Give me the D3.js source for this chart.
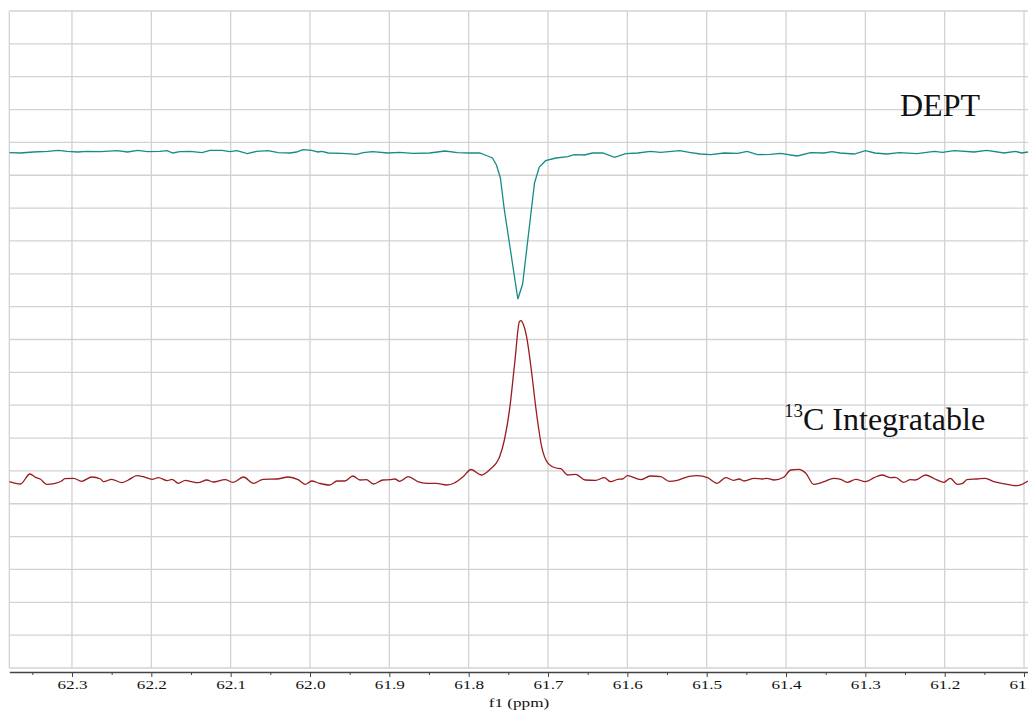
<!DOCTYPE html>
<html>
<head>
<meta charset="utf-8">
<script src="https://cdn.jsdelivr.net/npm/d3@7"></script>
<style>
body { margin: 0; background: #fff; }
svg { display: block; }
.grid line { stroke: #d2d2d2; stroke-width: 1.3; }
.axis path, .axis line { stroke: #444; }
.label { fill: #111; }
</style>
</head>
<body>
<div id="chart"></div>
<script>
//tick labels of the f1 axis
const majorTicks = [62.3, 62.2, 62.1, 62.0, 61.9, 61.8, 61.7, 61.6, 61.5, 61.4, 61.3, 61.2, 61.1];
const minorTicks = [62.35, 62.25, 62.15, 62.05, 61.95, 61.85, 61.75, 61.65, 61.55, 61.45, 61.35, 61.25, 61.15];

//DEPT trace (ppm, intensity relative to its baseline)
const deptPpm = [62.379, 62.365, 62.349, 62.331, 62.317, 62.306, 62.293, 62.281, 62.264, 62.243, 62.230, 62.217, 62.205, 62.189, 62.180, 62.173, 62.164, 62.151, 62.136, 62.126, 62.111, 62.101, 62.092, 62.079, 62.067, 62.053, 62.040, 62.025, 62.017, 62.009, 61.998, 61.990, 61.985, 61.977, 61.959, 61.941, 61.933, 61.921, 61.902, 61.887, 61.870, 61.849, 61.830, 61.814, 61.799, 61.786, 61.776, 61.770, 61.765, 61.760, 61.755, 61.738, 61.732, 61.717, 61.711, 61.703, 61.690, 61.675, 61.667, 61.654, 61.644, 61.631, 61.616, 61.602, 61.587, 61.571, 61.558, 61.534, 61.522, 61.508, 61.495, 61.478, 61.461, 61.449, 61.436, 61.420, 61.407, 61.386, 61.369, 61.352, 61.342, 61.332, 61.314, 61.300, 61.288, 61.273, 61.257, 61.235, 61.213, 61.203, 61.188, 61.163, 61.147, 61.125, 61.111, 61.103, 61.095];
const deptInt = [-0.7, -1.0, 0, 0.7, 1.7, 0.7, 0, 0.7, 0.3, 1.3, 0, 1.7, 0.3, 0.7, 1.3, -1.0, 0.3, 0.7, -0.7, 1.7, 1.7, 0.3, 1.3, -1.7, 0.7, 1.3, -0.7, -1.0, 0, 2.3, 1.7, 0, 0.7, -1.0, -1.3, -2.3, -0.7, 0.3, -1.0, -0.3, -1.3, -1.0, 1.0, -0.7, -1.0, -1.0, -4, -6, -13, -26, -58, -147, -132, -31, -15, -8.7, -6, -4.7, -2.7, -3, -1, -1, -5.3, -1.7, -1, 0.7, -0.3, 1.3, -0.3, -2, -2.7, -1, -1.3, 0.7, -2.7, -2.3, -1.3, -4, -0.7, -1, 0.3, -1, -2, 1.3, -1, -2, -0.7, -1.7, 0.7, -0.3, 1.3, 0, 1.7, -1, 0.7, -1, 0];

//13C integratable trace
const c13Ppm = [62.379, 62.365, 62.353, 62.346, 62.340, 62.332, 62.321, 62.313, 62.309, 62.298, 62.288, 62.275, 62.264, 62.260, 62.250, 62.237, 62.229, 62.218, 62.210, 62.199, 62.191, 62.180, 62.174, 62.166, 62.157, 62.149, 62.141, 62.130, 62.122, 62.107, 62.097, 62.084, 62.071, 62.059, 62.042, 62.027, 62.015, 62.006, 61.998, 61.988, 61.975, 61.966, 61.956, 61.946, 61.937, 61.929, 61.920, 61.908, 61.899, 61.893, 61.887, 61.876, 61.864, 61.853, 61.841, 61.828, 61.818, 61.807, 61.797, 61.784, 61.774, 61.761, 61.755, 61.748, 61.742, 61.736, 61.734, 61.732, 61.727, 61.721, 61.715, 61.708, 61.700, 61.690, 61.684, 61.675, 61.665, 61.653, 61.640, 61.629, 61.621, 61.612, 61.606, 61.600, 61.583, 61.571, 61.558, 61.547, 61.537, 61.522, 61.512, 61.499, 61.487, 61.476, 61.466, 61.459, 61.453, 61.440, 61.430, 61.424, 61.415, 61.403, 61.394, 61.384, 61.375, 61.365, 61.352, 61.340, 61.331, 61.323, 61.312, 61.300, 61.289, 61.279, 61.268, 61.262, 61.252, 61.243, 61.237, 61.224, 61.214, 61.201, 61.193, 61.184, 61.178, 61.172, 61.159, 61.149, 61.138, 61.121, 61.109, 61.095];
const c13Int = [-0.7, -3, 7, 3.7, 2, -3.3, -2.3, 0, 2.3, 2.7, -0.3, 4, 2, -0.7, 1.7, -1.7, 1, 5.3, 4.3, 1.7, 3.3, 0.3, 1.7, -2.3, 0.7, -0.7, -1.7, 1, -1, 1.3, -1.3, 4, -2.3, 1.7, 2, 4, 1.3, -3.3, 0, -2.3, -4, 0, 0, 5, 1, 1.3, -3, 1, 1.3, 2, -0.3, 4.3, -0.7, -2.3, -2.3, -4, -2, 4.3, 11.5, 6, 11, 24.3, 41, 74.3, 117.7, 159.3, 160.3, 158.3, 144.3, 111, 71, 34.3, 17.7, 13, 12.3, 6, 6.7, 1, 0.7, 3.3, -0.7, 1.7, 2, 5.3, 1.3, 5, 4.3, -0.3, 0.7, 4.7, 5.3, 3.3, -2.3, 3.3, 0.7, 2, 0, 2.7, 2, 2.7, 1, 3.7, 11, 11.7, 7.7, -3.3, -0.7, 2.7, 1.7, -1.3, 1.7, -0.7, 3.3, 6, 3.3, 3.7, -1.3, 1.3, 1, 6, 2.7, -1.3, 2.7, -3.3, -2.7, 1.3, 2, 2.7, -0.7, -3.3, -4.7, 0];

//baseline offsets used to stack the two spectra
const deptOffset = 516;
const c13Offset = 187;

const width = 1028;
const height = 714;
const serif = "'Liberation Serif', 'Times New Roman', serif";

const svg = d3.select("#chart")
  .append("svg")
  .attr("width", width)
  .attr("height", height);

//ppm axis runs from high to low
const xScale = d3.scaleLinear()
  .domain([62.379, 61.095])
  .range([9.3, 1028]);
const yScale = d3.scaleLinear()
  .domain([0, 657])
  .range([668, 11]);
const gridScale = d3.scaleLinear()
  .domain([0, 20])
  .range([668, 11]);

//grid
const grid = svg.append("g").attr("class", "grid");
grid.selectAll(".h")
  .data(d3.range(21))
  .join("line")
    .attr("class", "h")
    .attr("x1", xScale.range()[0])
    .attr("x2", xScale.range()[1])
    .attr("y1", d => gridScale(d))
    .attr("y2", d => gridScale(d));
grid.selectAll(".v")
  .data([62.379].concat(majorTicks))
  .join("line")
    .attr("class", "v")
    .attr("x1", d => xScale(d))
    .attr("x2", d => xScale(d))
    .attr("y1", gridScale(20))
    .attr("y2", gridScale(0));

//clip the spectra to the plot area
svg.append("clipPath")
  .attr("id", "plot-clip")
  .append("rect")
    .attr("x", xScale.range()[0])
    .attr("y", 0)
    .attr("width", width)
    .attr("height", gridScale(0));

const line = (offset, curve) => d3.line()
  .x(d => xScale(d[0]))
  .y(d => yScale(offset + d[1]))
  .curve(curve);

svg.append("path")
  .datum(d3.zip(deptPpm, deptInt))
  .attr("clip-path", "url(#plot-clip)")
  .attr("fill", "none")
  .attr("stroke", "#178a8a")
  .attr("stroke-width", 1.3)
  .attr("d", line(deptOffset, d3.curveLinear));

svg.append("path")
  .datum(d3.zip(c13Ppm, c13Int))
  .attr("clip-path", "url(#plot-clip)")
  .attr("fill", "none")
  .attr("stroke", "#991b1e")
  .attr("stroke-width", 1.3)
  .attr("d", line(c13Offset, d3.curveMonotoneX));

//bottom axis with minor ticks
const axisY = 672;
const bottomAxis = d3.axisBottom(xScale)
  .tickValues(majorTicks)
  .tickFormat(d3.format(".1f"))
  .tickSize(5)
  .tickSizeOuter(0);
const axisG = svg.append("g")
  .attr("class", "axis")
  .attr("transform", `translate(0, ${axisY})`)
  .call(bottomAxis)
  .attr("font-family", serif) //after call, the axis sets its own font
  .attr("font-size", 13);
axisG.select(".domain").attr("stroke-width", 1.5);
axisG.selectAll(".tick text")
  .attr("fill", "#111")
  .attr("y", 8)
  .attr("dy", "0.71em")
  .attr("transform", "scale(1.32,1)");

const minorAxis = d3.axisBottom(xScale)
  .tickValues(minorTicks)
  .tickFormat("")
  .tickSize(3)
  .tickSizeOuter(0);
svg.append("g")
  .attr("class", "axis")
  .attr("transform", `translate(0, ${axisY})`)
  .call(minorAxis)
  .select(".domain").remove();

//axis label
svg.append("text")
  .attr("class", "label")
  .attr("text-anchor", "middle")
  .attr("transform", "translate(519, 707) scale(1.32,1)")
  .attr("font-family", serif)
  .attr("font-size", 13)
  .text("f1 (ppm)");

//trace labels
svg.append("text")
  .attr("class", "label")
  .attr("x", 900)
  .attr("y", 116)
  .attr("font-family", serif)
  .attr("font-size", 32)
  .text("DEPT");

const c13Label = svg.append("text")
  .attr("class", "label")
  .attr("x", 784)
  .attr("y", 430)
  .attr("font-family", serif)
  .attr("font-size", 32);
c13Label.append("tspan")
  .attr("dy", -13)
  .attr("font-size", 19)
  .text("13");
c13Label.append("tspan")
  .attr("dy", 13)
  .text("C Integratable");
</script>
</body>
</html>
